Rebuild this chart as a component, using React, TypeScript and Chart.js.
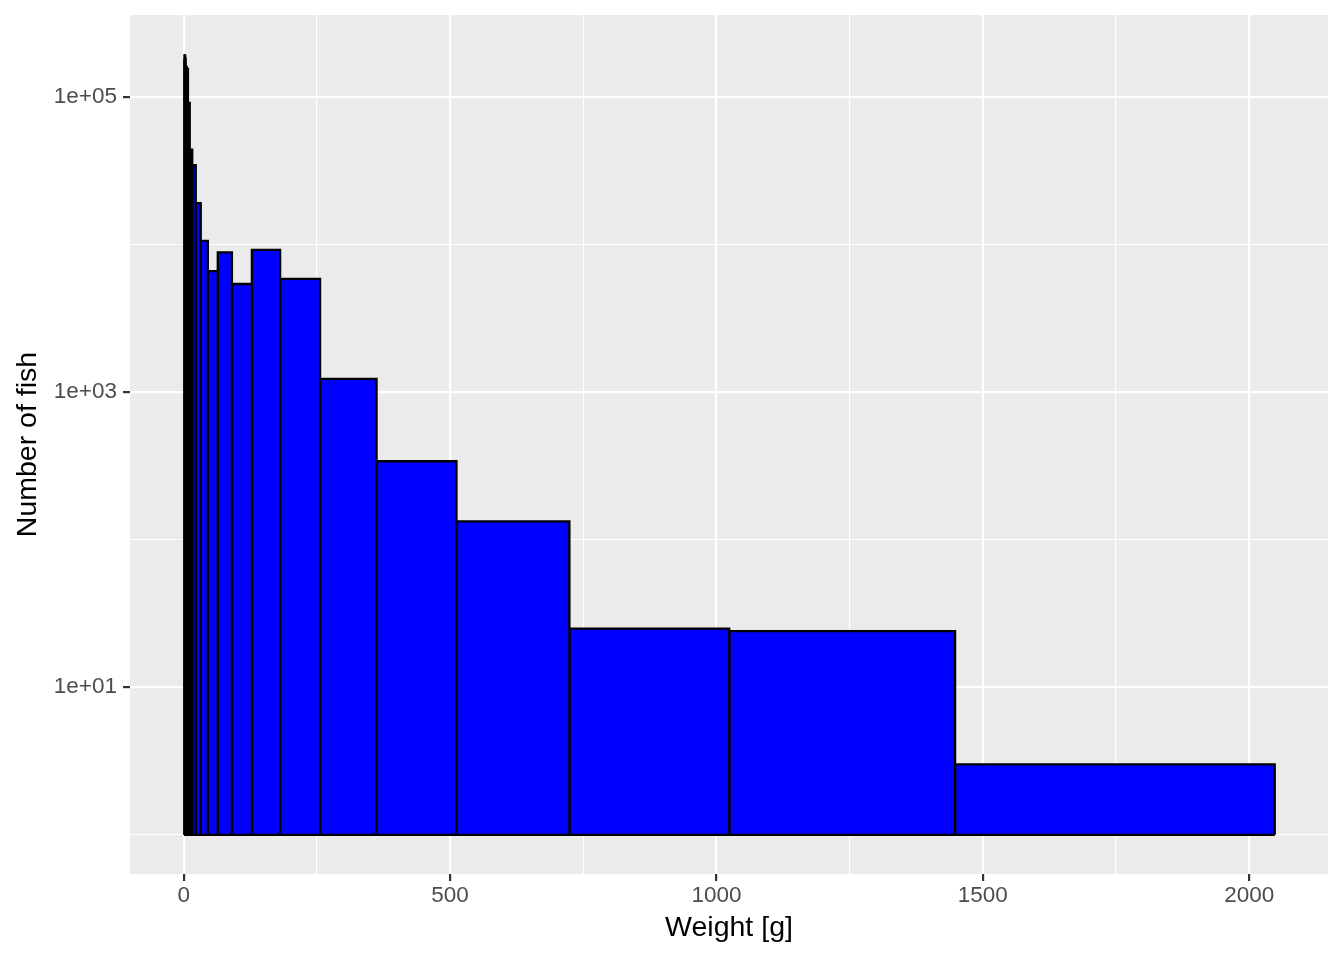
import { useEffect, useRef } from "react";
import { Chart, registerables } from "chart.js";

Chart.register(...registerables);

// histogram bins (g), sqrt(2) spaced, and counts
const binEdges = [
  1, 1.41, 2, 2.83, 4, 5.66, 8, 11.3, 16, 22.6, 32, 45.3, 64, 90.5, 128, 181,
  256, 362, 512, 724, 1024, 1448, 2048,
];
const fishCounts = [
  180000, 195000, 190000, 185000, 160000, 155000, 91000, 44000, 34500, 19100,
  10600, 6600, 8850, 5400, 9200, 5850, 1230, 340, 133, 25, 24, 3,
];

const xTicks = [0, 250, 500, 750, 1000, 1250, 1500, 1750, 2000];
const xLabels = ["0", "500", "1000", "1500", "2000"];
const yTicks = [1, 10, 100, 1000, 10000, 100000];
const yLabels = ["1e+01", "1e+03", "1e+05"];

const FONT = '"Liberation Sans", Arial, Helvetica, sans-serif';

const sciLabel = (v: number) => {
  const e = Math.round(Math.log10(v));
  return "1e+" + String(e).padStart(2, "0");
};

const panelBg = {
  id: "panelBg",
  beforeDraw(chart: Chart) {
    const { ctx, chartArea: a } = chart;
    ctx.save();
    ctx.fillStyle = "#EBEBEB";
    ctx.fillRect(a.left, a.top, a.right - a.left, a.bottom - a.top);
    ctx.restore();
  },
};

export default function App() {
  const ref = useRef<HTMLCanvasElement | null>(null);

  useEffect(() => {
    document.body.style.margin = "0";
    if (!ref.current) return;

    const outline = {
      borderColor: "#000000",
      borderWidth: 2.3,
      borderJoinStyle: "miter" as const,
      pointRadius: 0,
      pointHoverRadius: 0,
      tension: 0,
    };

    // one bar per bin: left edge up, top, right edge down, filled to y = 1
    const bars = fishCounts.map((n, i) => {
      const x0 = binEdges[i];
      const x1 = binEdges[i + 1];
      return {
        ...outline,
        data: [
          { x: x0, y: 1 },
          { x: x0, y: n },
          { x: x1, y: n },
          { x: x1, y: 1 },
        ],
        fill: { value: 1 },
        backgroundColor: "#0000FF",
      };
    });

    // bottom edge of all bars
    const baseline = {
      ...outline,
      data: [
        { x: binEdges[0], y: 1 },
        { x: binEdges[binEdges.length - 1], y: 1 },
      ],
      fill: false,
    };

    const chart = new Chart(ref.current, {
      type: "line",
      data: { datasets: [baseline, ...bars] },
      plugins: [panelBg],
      options: {
        animation: false,
        responsive: false,
        layout: { padding: { top: 15, right: 16, bottom: 0, left: 0 } },
        plugins: { legend: { display: false }, tooltip: { enabled: false } },
        scales: {
          x: {
            type: "linear",
            min: -100.8,
            max: 2148,
            afterBuildTicks: (s: any) => {
              s.ticks = xTicks.map((v) => ({ value: v }));
            },
            afterFit: (s: any) => {
              s.height = 86;
              s.paddingLeft = 0;
              s.paddingRight = 0;
            },
            border: { display: false },
            grid: {
              color: "#FFFFFF",
              lineWidth: (c: any) =>
                xLabels.includes(String(c.tick?.value)) ? 2.2 : 1.1,
              tickColor: (c: any) =>
                xLabels.includes(String(c.tick?.value)) ? "#333333" : "rgba(0,0,0,0)",
              tickWidth: 2.2,
              tickLength: 7,
            },
            ticks: {
              autoSkip: false,
              maxRotation: 0,
              padding: 1,
              color: "#4D4D4D",
              font: { family: FONT, size: 22.5 },
              callback: (v: any) => (xLabels.includes(String(v)) ? String(v) : ""),
            },
            title: {
              display: true,
              text: "Weight [g]",
              color: "#000000",
              font: { family: FONT, size: 28.5 },
              padding: { top: 0, bottom: 15 },
            },
          },
          y: {
            type: "logarithmic",
            min: 0.543,
            max: 359000,
            afterBuildTicks: (s: any) => {
              s.ticks = yTicks.map((v) => ({ value: v }));
            },
            afterFit: (s: any) => {
              s.width = 130;
              s.paddingTop = 0;
              s.paddingBottom = 0;
            },
            border: { display: false },
            grid: {
              color: "#FFFFFF",
              lineWidth: (c: any) =>
                c.tick && yLabels.includes(sciLabel(c.tick.value)) ? 2.2 : 1.1,
              tickColor: (c: any) =>
                c.tick && yLabels.includes(sciLabel(c.tick.value))
                  ? "#333333"
                  : "rgba(0,0,0,0)",
              tickWidth: 2.2,
              tickLength: 7,
            },
            ticks: {
              autoSkip: false,
              padding: 6,
              color: "#4D4D4D",
              font: { family: FONT, size: 22.5 },
              callback: (v: any) => {
                const l = sciLabel(Number(v));
                return yLabels.includes(l) ? l : "";
              },
            },
            title: {
              display: true,
              text: "Number of fish",
              color: "#000000",
              font: { family: FONT, size: 28.5 },
              padding: { top: 11, bottom: 0 },
            },
          },
        },
      },
    });
    return () => chart.destroy();
  }, [ref]);

  return (
    <div style={{ width: 1344, height: 960 }}>
      <canvas ref={ref} width={1344} height={960} style={{ display: "block" }}></canvas>
    </div>
  );
}
